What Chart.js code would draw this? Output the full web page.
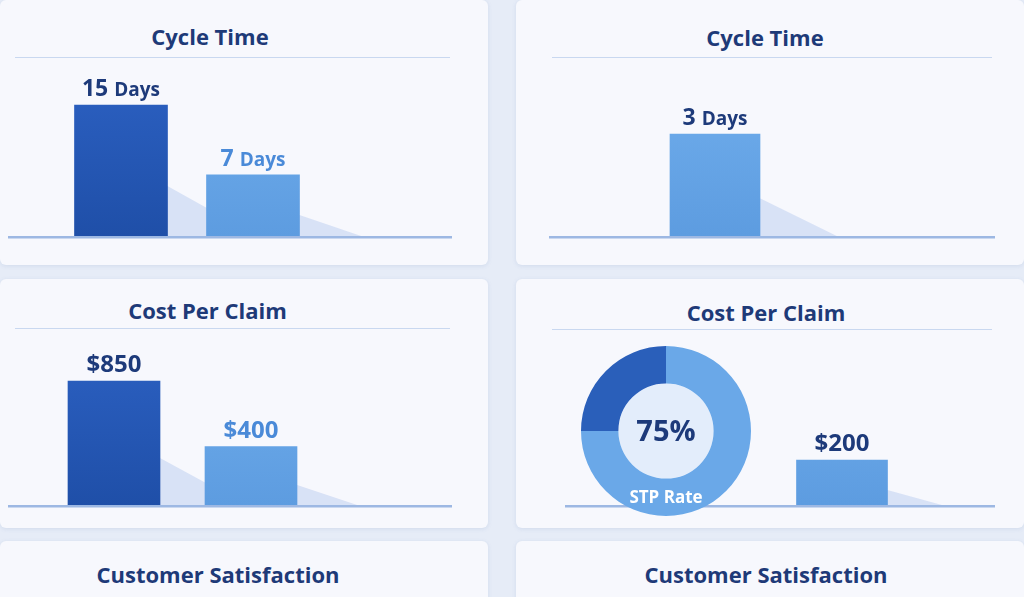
<!DOCTYPE html>
<html><head><meta charset="utf-8">
<script src="https://cdn.jsdelivr.net/npm/chart.js@4.4.0/dist/chart.umd.min.js"></script>
<style>
body{margin:0;width:1024px;height:597px;background:#e6ecf7;position:relative;overflow:hidden;font-family:"Open Sans",sans-serif}
.panel{position:absolute;background:#f7f8fd;border-radius:6px;box-shadow:0 1px 4px rgba(90,120,180,0.15)}
.title{position:absolute;font-weight:700;font-size:22px;color:#1e3a78;text-align:center}
.rule{position:absolute;height:1px;background:#c9d8f0}
canvas{position:absolute}
</style></head><body>
<div class="panel" style="left:0;top:0;width:488px;height:265px"></div>
<div class="panel" style="left:516px;top:0;width:508px;height:265px"></div>
<div class="panel" style="left:0;top:279px;width:488px;height:249px"></div>
<div class="panel" style="left:516px;top:279px;width:508px;height:249px"></div>
<div class="panel" style="left:0;top:541px;width:488px;height:80px"></div>
<div class="panel" style="left:516px;top:541px;width:508px;height:80px"></div>
<div class="title" style="left:0;width:420px;top:21px">Cycle Time</div>
<div class="title" style="left:550px;width:430px;top:22px">Cycle Time</div>
<div class="title" style="left:0;width:415px;top:295px">Cost Per Claim</div>
<div class="title" style="left:550px;width:432px;top:297px">Cost Per Claim</div>
<div class="title" style="left:0;width:436px;top:559px">Customer Satisfaction</div>
<div class="title" style="left:550px;width:432px;top:559px">Customer Satisfaction</div>
<div class="rule" style="left:15px;width:435px;top:57px"></div>
<div class="rule" style="left:552px;width:440px;top:57px"></div>
<div class="rule" style="left:15px;width:435px;top:328px"></div>
<div class="rule" style="left:552px;width:440px;top:329px"></div>
<canvas id="c1" style="left:8px;top:60px" width="444" height="180"></canvas>
<canvas id="c2" style="left:549px;top:60px" width="446" height="180"></canvas>
<canvas id="c3" style="left:8px;top:332px" width="444" height="176"></canvas>
<canvas id="c4" style="left:565px;top:332px" width="430" height="176"></canvas>
<canvas id="c5" style="left:581px;top:346px" width="170" height="170"></canvas>
<script>
// data
const cycleLeftLabels=["Before","After"];
const cycleLeftValues=[15,7];
const cycleLeftText=["15 Days","7 Days"];
const cycleRightLabels=["Now"];
const cycleRightValues=[3];
const cycleRightText=["3 Days"];
const costLeftLabels=["Before","After"];
const costLeftValues=[850,400];
const costLeftText=["$850","$400"];
const costRightLabels=["Now"];
const costRightValues=[200];
const costRightText=["$200"];
const stpLabels=["Manual","STP"];
const stpValues=[25,75];

const fx=(ctx,top,bot,c1,c2)=>{const g=ctx.createLinearGradient(0,top,0,bot);g.addColorStop(0,c1);g.addColorStop(1,c2);return g;};

function barChart(id,labels,values,texts,colors,textColors,opt){
  const cv=document.getElementById(id);
  const W=cv.width,H=cv.height;
  const n=labels.length;
  const plotW=opt.plotW, left=opt.first - plotW/(2*n);
  const plotH=opt.base;
  const ymax=opt.val*plotH/opt.px;
  new Chart(cv,{type:'bar',
    data:{labels,datasets:[{data:values,backgroundColor:c=>{const ch=c.chart;return colors[c.dataIndex]==='d'?fx(ch.ctx,0,plotH,'#2d62c4','#1f4fa8'):fx(ch.ctx,0,plotH,'#72b0ee','#5d9ce0');},
      barThickness:opt.bw,borderWidth:0}]},
    options:{responsive:false,animation:false,events:[],
      layout:{padding:{left:left,right:W-left-plotW,top:0,bottom:H-plotH}},
      plugins:{legend:{display:false},tooltip:{enabled:false}},
      scales:{x:{display:false},y:{display:false,min:0,max:ymax}}},
    plugins:[{id:'deco',beforeDatasetsDraw(ch){
        const c=ch.ctx,meta=ch.getDatasetMeta(0),base=ch.scales.y.getPixelForValue(0);
        meta.data.forEach(b=>{const r=b.x+b.width/2,h=base-b.y;
          c.save();c.fillStyle='rgba(110,150,225,0.22)';c.beginPath();
          c.moveTo(r-b.width*0.3,b.y+h*0.5);c.lineTo(r+b.width*0.4+h*0.4,base);c.lineTo(r-b.width*0.3,base);c.closePath();c.fill();c.restore();});
      },afterDatasetsDraw(ch){
        const c=ch.ctx,meta=ch.getDatasetMeta(0),base=ch.scales.y.getPixelForValue(0);
        c.save();c.fillStyle='#9db8e3';c.fillRect(0,base,W,2.5);
        meta.data.forEach((b,i)=>{const hasBoth=/\d/.test(texts[i][0])&&texts[i].includes(' ');
          c.textBaseline='alphabetic';c.fillStyle=textColors[i];
          if(hasBoth){const [num,unit]=texts[i].split(' ');
            c.font='700 23px "Open Sans"';const w1=c.measureText(num+' ').width;
            c.font='700 19px "Open Sans"';const w2=c.measureText(unit).width;
            let x=b.x-(w1+w2)/2;c.font='700 23px "Open Sans"';c.textAlign='left';c.fillText(num,x,b.y-9);
            c.font='700 19px "Open Sans"';c.fillText(unit,x+w1,b.y-9);
          }else{c.font='700 24px "Open Sans"';c.textAlign='center';c.fillText(texts[i],b.x,b.y-9);}
        });c.restore();}}]
  });
}
barChart('c1',cycleLeftLabels,cycleLeftValues,cycleLeftText,['d','l'],['#1d3a7a','#4a8ad8'],
  {plotW:264,first:113,bw:93,base:176,val:15,px:131});
barChart('c2',cycleRightLabels,cycleRightValues,cycleRightText,['l'],['#1d3a7a'],
  {plotW:200,first:166,bw:90,base:176,val:3,px:102});
barChart('c3',costLeftLabels,costLeftValues,costLeftText,['d','l'],['#1d3a7a','#4a8ad8'],
  {plotW:274,first:106,bw:92,base:173,val:850,px:124});
barChart('c4',costRightLabels,costRightValues,costRightText,['l'],['#1d3a7a'],
  {plotW:200,first:277,bw:91,base:173,val:200,px:45});

new Chart(document.getElementById('c5'),{type:'doughnut',
  data:{labels:stpLabels,datasets:[{data:stpValues,backgroundColor:['#2a5fba','#6aa8e8'],borderWidth:0}]},
  options:{responsive:false,animation:false,events:[],cutout:'56%',rotation:-90,
    plugins:{legend:{display:false},tooltip:{enabled:false}}},
  plugins:[{id:'ctr',beforeDatasetsDraw(ch){const m=ch.getDatasetMeta(0).data[0],c=ch.ctx;
      c.save();c.fillStyle='#e3edfb';c.beginPath();c.arc(m.x,m.y,m.innerRadius,0,Math.PI*2);c.fill();c.restore();},
    afterDatasetsDraw(ch){const m=ch.getDatasetMeta(0).data[0],c=ch.ctx;
      c.save();c.textAlign='center';c.fillStyle='#1d3a7a';c.font='700 29px "Open Sans"';c.fillText(stpValues[1]+'%',m.x,m.y+10);
      c.fillStyle='#ffffff';c.font='700 17px "Open Sans"';c.fillText('STP Rate',m.x,m.y+72);c.restore();}}]
});
</script></body></html>
